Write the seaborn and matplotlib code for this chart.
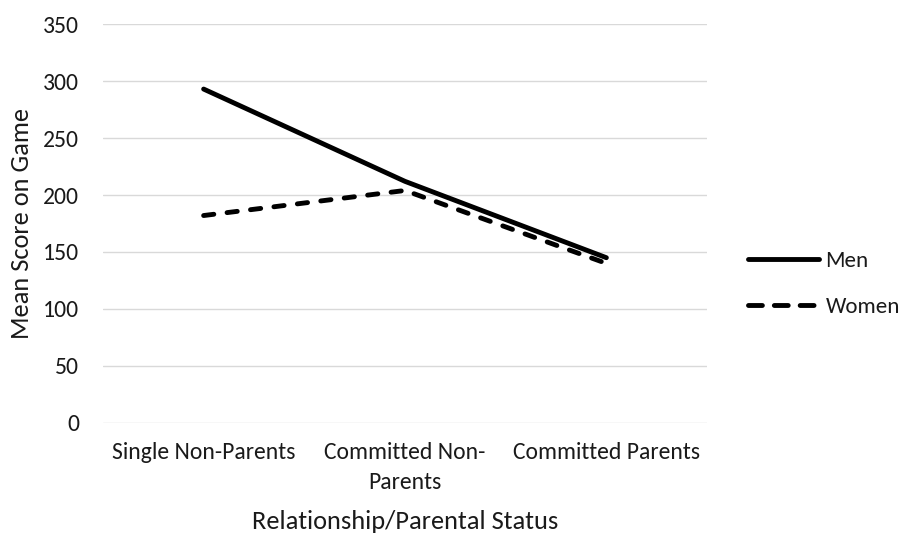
import matplotlib
matplotlib.use("Agg")
import matplotlib.pyplot as plt
from matplotlib.lines import Line2D
import seaborn as sns
import pandas as pd

categories = ["Single Non-Parents", "Committed Non-\nParents", "Committed Parents"]
men_scores = [293, 212, 145]
women_scores = [182, 204, 140]
series_names = ["Men", "Women"]
y_ticks = [0, 50, 100, 150, 200, 250, 300, 350]

sns.set_theme(style="white")
plt.rcParams["font.family"] = ["Carlito", "Lato", "DejaVu Sans"]
plt.rcParams["lines.scale_dashes"] = False

df = pd.DataFrame({
    "status": categories * 2,
    "score": men_scores + women_scores,
    "group": [series_names[0]] * 3 + [series_names[1]] * 3,
})

fig = plt.figure(figsize=(9.03, 5.36), dpi=100)
ax = fig.add_axes([0.114, 0.211, 0.669, 0.744])

sns.lineplot(
    data=df, x="status", y="score", style="group", color="black",
    linewidth=3.5, sort=False, ax=ax,
    dashes={"Men": "", "Women": (7.4, 9.6)}, legend=False,
)
for ln in ax.get_lines():
    ln.set_dash_capstyle("round")
    ln.set_solid_capstyle("round")

FS = 17
TITLE_FS = 19
TXT = "#1a1a1a"
ax.set_xlim(-0.5, 2.5)
ax.set_ylim(0, 350)
ax.set_yticks(y_ticks)
ax.yaxis.grid(True, color="#d9d9d9", linewidth=1)
ax.set_axisbelow(True)
for s in ax.spines.values():
    s.set_visible(False)
ax.tick_params(axis="both", length=0, labelsize=FS, colors=TXT)
ax.tick_params(axis="x", pad=14)
ax.tick_params(axis="y", pad=17)
for lbl in ax.get_xticklabels():
    lbl.set_linespacing(1.5)
ax.set_xlabel("Relationship/Parental Status", fontsize=TITLE_FS, color=TXT, labelpad=12)
ax.set_ylabel("Mean Score on Game", fontsize=TITLE_FS, color=TXT, labelpad=7)

# legend keys drawn with the same stroke as the series
handles = [
    Line2D([], [], color="black", lw=3.5, solid_capstyle="round"),
    Line2D([], [], color="black", lw=3.5, dash_capstyle="round", ls=(0, (10, 8.6))),
]
leg = fig.legend(
    handles=handles, labels=series_names, loc="center left",
    bbox_to_anchor=(0.805, 0.47), frameon=False, fontsize=16.5,
    handlelength=3.1, labelspacing=1.15, handletextpad=0.3,
)
for t in leg.get_texts():
    t.set_color(TXT)

fig.savefig("out.png", dpi=100)
